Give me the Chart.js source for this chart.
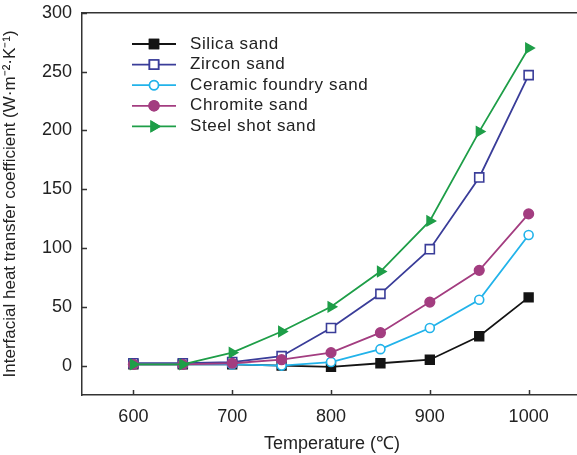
<!DOCTYPE html>
<html>
<head>
<meta charset="utf-8">
<script src="https://cdn.jsdelivr.net/npm/chart.js@4.4.0/dist/chart.umd.min.js"></script>
<style>
  html, body { margin: 0; padding: 0; background: #fff; overflow: hidden; }
  #box { width: 590px; height: 455px; }
</style>
</head>
<body>
<div id="box"><canvas id="grafico"></canvas></div>
<script>
// temperatures (C)
var temps = [600, 650, 700, 750, 800, 850, 900, 950, 1000];
var xTicks = [600, 700, 800, 900, 1000];
var yTicks = [0, 50, 100, 150, 200, 250, 300];

var silica   = [1, 1, 1, 0, -1, 2, 5, 25, 58];
var zircon   = [2, 2, 3, 8, 32, 61, 99, 160, 247];
var ceramic  = [1, 1, 1, 0, 3, 14, 32, 56, 111];
var chromite = [1, 1, 2, 5, 11, 28, 54, 81, 129];
var steel    = [1, 1, 11, 29, 50, 80, 123, 199, 270];

var nomes = ["Silica sand", "Zircon sand", "Ceramic foundry sand", "Chromite sand", "Steel shot sand"];

function pontos(vals) {
    return temps.map(function (t, i) { return { x: t, y: vals[i] }; });
}

var fonte = "'Liberation Sans', Arial, sans-serif";

// inward ticks, top border and the legend
var extras = {
    id: 'extras',
    afterDraw: function (chart) {
        var ctx = chart.ctx, a = chart.chartArea;
        var sx = chart.scales.x, sy = chart.scales.y;
        ctx.save();
        ctx.strokeStyle = '#333';
        ctx.lineWidth = 1.5;
        ctx.beginPath();
        ctx.moveTo(a.left, a.top);
        ctx.lineTo(a.right + 2, a.top);
        xTicks.forEach(function (v) {
            var px = Math.round(sx.getPixelForValue(v)) + 0.5;
            ctx.moveTo(px, a.bottom);
            ctx.lineTo(px, a.bottom - 5);
        });
        yTicks.forEach(function (v) {
            var py = Math.round(sy.getPixelForValue(v)) + 0.5;
            ctx.moveTo(a.left, py);
            ctx.lineTo(a.left + 5, py);
        });
        ctx.stroke();

        // legend
        var x0 = 132, x1 = 176, y0 = 44, dy = 20.6;
        chart.data.datasets.forEach(function (ds, i) {
            var y = y0 + i * dy;
            ctx.strokeStyle = ds.borderColor;
            ctx.lineWidth = ds.borderWidth;
            ctx.beginPath();
            ctx.moveTo(x0, y);
            ctx.lineTo(x1, y);
            ctx.stroke();
            Chart.helpers.drawPoint(ctx, {
                pointStyle: ds.pointStyle,
                radius: ds.pointRadius,
                rotation: ds.pointRotation || 0,
                borderWidth: ds.pointBorderWidth
            }, (x0 + x1) / 2, y);
            ctx.fillStyle = ds.pointBackgroundColor;
            ctx.strokeStyle = ds.pointBorderColor;
            ctx.lineWidth = ds.pointBorderWidth;
            ctx.fill();
            ctx.stroke();
            ctx.fillStyle = '#222';
            ctx.font = '17px ' + fonte;
            ctx.letterSpacing = '0.6px';
            ctx.textBaseline = 'middle';
            ctx.fillText(ds.label, 190, y);
        });
        ctx.restore();
    }
};

function serie(label, vals, cor, estilo, raio, preench, rot) {
    return {
        label: label,
        data: pontos(vals),
        borderColor: cor,
        borderWidth: 1.8,
        backgroundColor: cor,
        pointStyle: estilo,
        pointRadius: raio,
        pointRotation: rot || 0,
        pointBackgroundColor: preench,
        pointBorderColor: cor,
        pointBorderWidth: 1.6,
        pointHoverRadius: raio,
        tension: 0,
        fill: false
    };
}

var graf = document.getElementById("grafico");
var lineChart = new Chart(graf, {
    type: 'line',
    data: {
        datasets: [
            Object.assign(serie(nomes[0], silica, '#141414', 'rect', 6.2, '#141414'), { order: 5 }),
            Object.assign(serie(nomes[1], zircon, '#3a3d99', 'rect', 6.4, '#ffffff'), { order: 4 }),
            Object.assign(serie(nomes[2], ceramic, '#22b3ea', 'circle', 4.5, '#ffffff'), { order: 3 }),
            Object.assign(serie(nomes[3], chromite, '#a33d80', 'circle', 4.8, '#a33d80'), { order: 2 }),
            Object.assign(serie(nomes[4], steel, '#1e9e48', 'triangle', 5.5, '#1e9e48', 90), { order: 1 })
        ]
    },
    options: {
        responsive: true,
        maintainAspectRatio: false,
        animation: false,
        layout: { padding: { top: 10, right: 0, left: 0, bottom: 0 } },
        plugins: {
            legend: { display: false },
            tooltip: { enabled: false }
        },
        scales: {
            x: {
                type: 'linear',
                min: 548,
                max: 1054,
                afterBuildTicks: function (s) { s.ticks = xTicks.map(function (v) { return { value: v }; }); },
                afterFit: function (s) { s.height = 60; },
                grid: { display: false },
                border: { display: true, color: '#333', width: 1.5 },
                ticks: { color: '#222', font: { family: fonte, size: 18 }, padding: 3,
                         callback: function (v) { return String(v); } },
                title: { display: true, text: 'Temperature (\u2103)', color: '#222', font: { family: fonte, size: 18 }, padding: { top: 0, bottom: 0 } }
            },
            y: {
                min: -25,
                max: 300,
                afterBuildTicks: function (s) { s.ticks = yTicks.map(function (v) { return { value: v }; }); },
                afterFit: function (s) { s.width = 82; },
                grid: { display: false },
                border: { display: true, color: '#333', width: 1.5 },
                ticks: { color: '#222', font: { family: fonte, size: 18 }, padding: 2 },
                title: { display: true, text: 'Interfacial heat transfer coefficient (W\u00b7m\u207b\u00b2\u00b7K\u207b\u00b9)', color: '#222', font: { family: fonte, size: 17 }, padding: { top: 0, bottom: 2 } }
            }
        }
    },
    plugins: [extras]
});
</script>
</body>
</html>
